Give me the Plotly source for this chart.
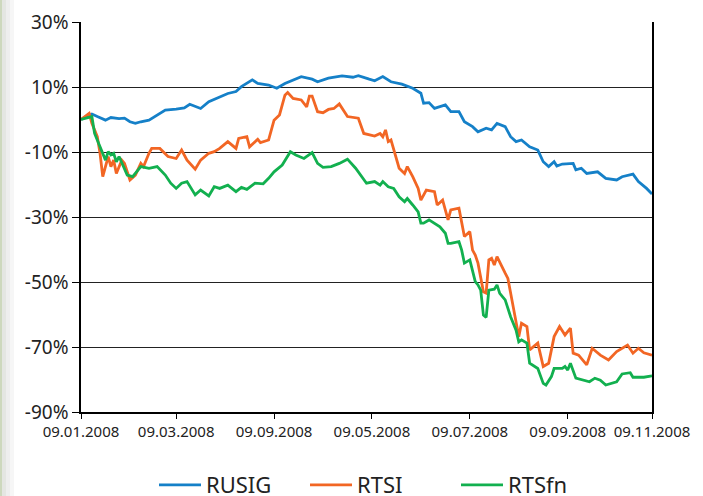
import plotly.graph_objects as go

# Trading-day index (0 = 09.01.2008, 210 = 09.11.2008) and % change
rusig_day = [0, 4, 6, 9, 11, 14, 16, 18, 20, 22, 25, 28, 31, 35, 38, 40, 44, 47, 50, 54,
             57, 59, 63, 65, 69, 72, 75, 79, 81, 85, 87, 91, 96, 100, 102, 106, 108,
             111, 114, 118, 122, 125, 126, 128, 130, 134, 136, 139, 141, 144, 146, 149,
             151, 153, 156, 158, 160, 162, 165, 168, 170, 172, 174, 175, 177, 181, 182,
             184, 186, 190, 193, 197, 199, 203, 205, 208, 210]
rusig_val = [0.0, 1.7, 0.9, -0.2, 0.6, 0.3, 0.4, -0.7, -1.2, -0.7, -0.2, 1.4, 2.9, 3.2, 3.6,
             4.7, 3.4, 5.5, 6.5, 8.0, 8.6, 10.1, 12.2, 11.1, 10.6, 9.6, 11.1, 12.4, 13.2,
             12.4, 11.6, 12.7, 13.4, 13.0, 13.5, 12.4, 11.9, 13.2, 11.6, 10.9, 9.6, 8.1,
             5.0, 5.2, 3.4, 4.5, 2.4, 2.4, -0.7, -2.2, -3.8, -2.7, -3.2, -1.2, -2.2, -5.3,
             -6.8, -6.3, -8.4, -9.4, -13.0, -14.5, -13.0, -14.3, -13.7, -13.5, -15.5,
             -15.0, -16.6, -16.1, -18.1, -18.6, -17.6, -16.8, -19.1, -21.2, -22.9]

rtsi_day = [0, 3, 4, 6, 7, 8, 10, 11, 12, 13, 15, 16, 18, 20, 22, 23, 25, 26, 29, 32, 35,
            37, 39, 42, 44, 47, 49, 51, 54, 57, 58, 61, 62, 65, 66, 69, 71, 73, 75, 76, 78,
            81, 83, 84, 85, 87, 89, 91, 93, 95, 98, 102, 104, 106, 108, 110, 111, 112, 113,
            114, 115, 117, 119, 120, 122, 124, 125, 127, 130, 131, 133, 135, 136, 139, 141,
            143, 144, 145, 146, 148, 149, 150, 151, 152, 153, 155, 156, 157, 159, 160, 161,
            162, 164, 165, 168, 170, 172, 174, 176, 178, 180, 181, 183, 186, 188, 191, 194,
            197, 199, 201, 203, 205, 207, 209, 210]
rtsi_val = [0.0, 1.9, -1.2, -5.3, -10.4, -17.6, -11.4, -14.5, -12.5, -16.6, -12.5, -13.5,
            -18.6, -17.1, -13.5, -14.5, -10.4, -8.9, -8.9, -11.4, -12.0, -9.4, -12.5, -15.3,
            -12.5, -10.4, -9.9, -8.9, -6.8, -8.9, -5.8, -5.3, -8.4, -6.1, -7.1, -6.3, -0.2,
            1.4, 7.5, 8.3, 6.5, 6.0, 3.9, 7.2, 7.2, 2.4, 2.1, 3.1, 3.4, 4.8, 0.9, 0.4, -4.3,
            -4.8, -5.1, -4.3, -5.3, -3.2, -6.8, -6.3, -9.4, -15.0, -16.6, -14.5, -17.6,
            -21.2, -24.8, -21.7, -22.2, -26.3, -24.8, -30.9, -27.8, -27.3, -36.0, -34.5,
            -40.2, -41.7, -44.2, -53.0, -53.4, -43.2, -42.7, -44.8, -42.2, -45.3, -47.3,
            -48.9, -57.6, -62.7, -66.8, -62.7, -63.7, -70.9, -68.8, -76.0, -75.0, -66.8,
            -63.7, -66.3, -64.2, -71.9, -72.5, -75.5, -70.4, -72.5, -74.0, -71.4, -70.4,
            -69.4, -71.9, -70.4, -71.8, -72.2, -72.5]

rtsfn_day = [0, 4, 5, 7, 9, 10, 11, 12, 13, 14, 16, 17, 19, 21, 22, 25, 28, 31, 33, 35, 37,
             39, 42, 44, 47, 49, 51, 54, 57, 59, 61, 64, 67, 69, 71, 74, 76, 77, 79, 82, 85,
             87, 89, 92, 95, 98, 101, 103, 105, 108, 110, 111, 113, 115, 117, 119, 120, 122,
             124, 125, 126, 128, 130, 132, 134, 135, 136, 139, 140, 141, 143, 144, 145, 146,
             147, 148, 149, 150, 152, 153, 154, 156, 158, 160, 161, 162, 164, 165, 168, 170,
             171, 173, 174, 177, 178, 179, 180, 182, 185, 187, 189, 191, 193, 197, 199, 202,
             203, 207, 210]
rtsfn_val = [0.0, 0.9, -4.3, -8.4, -12.5, -9.9, -10.9, -10.4, -13.0, -11.4, -15.0, -17.1,
             -17.6, -15.5, -14.5, -15.0, -14.5, -17.1, -19.6, -21.2, -19.6, -19.1, -23.2,
             -21.7, -23.5, -20.7, -21.2, -20.2, -22.2, -20.9, -21.5, -19.6, -19.8, -18.1,
             -16.1, -14.0, -11.4, -9.9, -10.9, -12.0, -10.2, -13.5, -14.7, -14.5, -13.5,
             -12.2, -15.0, -17.4, -19.6, -19.1, -20.2, -19.1, -20.7, -21.2, -23.8, -25.3,
             -24.3, -26.3, -28.4, -31.9, -31.9, -30.9, -31.9, -33.0, -35.0, -38.1, -38.1,
             -37.6, -40.2, -44.2, -43.2, -46.3, -49.9, -50.9, -52.5, -60.2, -60.9, -52.5,
             -52.2, -50.9, -53.5, -55.5, -60.7, -64.8, -68.4, -67.8, -68.8, -75.0, -76.6,
             -81.2, -81.7, -79.1, -76.6, -76.6, -76.0, -77.1, -75.0, -79.6, -80.2, -80.7,
             -79.6, -80.2, -81.7, -80.7, -78.3, -77.9, -79.3, -79.3, -78.9]

x_tick_days = [0, 35, 71, 107, 143, 179, 210]
x_tick_labels = ["09.01.2008", "09.03.2008", "09.09.2008", "09.05.2008",
                 "09.07.2008", "09.09.2008", "09.11.2008"]
y_tick_vals = [-90, -70, -50, -30, -10, 10, 30]
y_tick_labels = [f"{v}%" for v in y_tick_vals]

series = [
    ("RUSIG", rusig_day, rusig_val, "#1580c8"),
    ("RTSI", rtsi_day, rtsi_val, "#f26624"),
    ("RTSfn", rtsfn_day, rtsfn_val, "#12b04f"),
]

FONT = "Noto Sans"
fig = go.Figure()
for name, xs, ys, col in series:
    fig.add_trace(go.Scatter(x=xs, y=ys, name=name, mode="lines",
                             line=dict(color=col, width=2.8)))

# decorative left-edge stripe
stripe = [(-81, -79, "#cdd8bd"), (-79, -75, "#e4e6e2"), (-75, -71, "#eeeeee"), (-71, -67, "#f6f6f6")]
for x0, x1, c in stripe:
    fig.add_shape(type="rect", xref="paper", yref="paper",
                  x0=x0 / 571, x1=x1 / 571, y0=-84 / 390, y1=1 + 22 / 390,
                  fillcolor=c, line=dict(width=0), layer="below")

fig.update_layout(
    width=703, height=496,
    margin=dict(l=81, r=51, t=22, b=84, autoexpand=False),
    paper_bgcolor="white", plot_bgcolor="white",
    font=dict(family=FONT, color="#222"),
    showlegend=True,
    legend=dict(orientation="h", xref="container", yref="container",
                x=154 / 703, xanchor="left", y=11 / 496, yanchor="middle",
                itemwidth=42, entrywidth=94,
                font=dict(size=22, family=FONT, color="#222"),
                bgcolor="rgba(0,0,0,0)"),
    xaxis=dict(range=[0, 210], tickvals=x_tick_days, ticktext=x_tick_labels,
               showgrid=False, zeroline=False, showline=True, linecolor="black",
               linewidth=1.5, ticks="outside", ticklen=5, tickcolor="black",
               tickfont=dict(size=15, family=FONT, color="#222")),
    yaxis=dict(range=[-90, 30], tickvals=y_tick_vals, ticktext=y_tick_labels,
               showgrid=True, gridcolor="#222", gridwidth=1, zeroline=False,
               showline=True, linecolor="black", linewidth=1.5, mirror=True,
               ticks="outside", ticklen=7, tickcolor="black",
               tickfont=dict(size=19, family=FONT, color="#222")),
)

fig.write_html("out.html",
               config={"displayModeBar": False},
               post_script="document.body.style.margin='0';document.body.style.padding='0';"
                           "document.body.style.overflow='hidden';")
